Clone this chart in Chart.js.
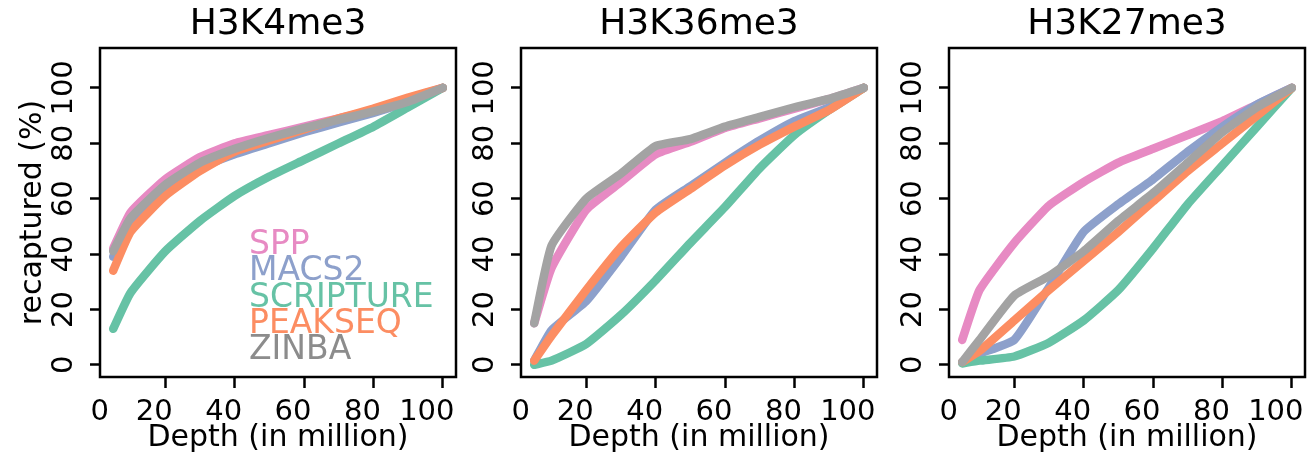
<!DOCTYPE html>
<html>
<head>
<meta charset="utf-8">
<title>Recaptured peaks vs sequencing depth</title>
<script src="https://cdn.jsdelivr.net/npm/chart.js@4.4.1/dist/chart.umd.min.js"></script>
<style>
  html, body { margin: 0; padding: 0; background: #fff; }
  body { width: 1311px; height: 459px; position: relative; overflow: hidden; }
  canvas { position: absolute; top: 0; }
</style>
</head>
<body>
<canvas id="k4" width="470" height="459" style="left:0px"></canvas>
<canvas id="k36" width="470" height="459" style="left:421px"></canvas>
<canvas id="k27" width="462" height="459" style="left:849px"></canvas>
<script>
// depth in million reads
const depth = [5, 10, 20, 30, 40, 50, 60, 70, 80, 90, 100];
const methods = ['SPP', 'MACS2', 'SCRIPTURE', 'PEAKSEQ', 'ZINBA'];
const colors = ['#e78ac3', '#8da0cb', '#66c2a5', '#fc8d62', '#a3a3a3'];
const xTicks = [0, 20, 40, 60, 80, 100];
const yTicks = [0, 20, 40, 60, 80, 100];

// H3K4me3
const k4Spp   = [42, 55, 67, 75, 80, 83, 86, 89, 92, 96, 100];
const k4Macs2 = [39, 51, 63, 71, 76, 80, 84, 87.5, 91, 95, 100];
const k4Scrip = [13, 26, 41, 52, 61, 68, 74, 80, 86, 93, 100];
const k4Peak  = [34, 48, 61, 70, 77, 81, 85, 89, 92.5, 96.5, 100];
const k4Zinba = [41, 53, 65, 73, 78, 82, 85.5, 88.5, 91.5, 95, 100];

// H3K36me3
const k36Spp   = [15, 35, 56, 66, 76, 80.5, 85.5, 89, 92.5, 96, 100];
const k36Macs2 = [1.5, 12.5, 23, 39, 56, 64.5, 73, 81, 88, 93, 100];
const k36Scrip = [0, 1.5, 7.5, 18, 30.5, 44, 57, 71, 83, 92, 100];
const k36Peak  = [1.5, 10.5, 27, 42.5, 55, 63.5, 72, 79.5, 86, 92, 100];
const k36Zinba = [15, 43, 60, 69, 79, 81.5, 86, 89.5, 93, 96, 100];

// H3K27me3
const k27Spp   = [9, 27, 44, 57.5, 66, 73, 78, 83, 88, 94, 100];
const k27Macs2 = [1, 4, 9, 28, 48, 58, 67, 77, 86, 94, 100];
const k27Scrip = [0.5, 1.5, 3, 8, 16, 27, 42, 58, 72, 86, 100];
const k27Peak  = [1, 5, 16, 27, 37.5, 48, 59, 70, 80, 90, 100];
const k27Zinba = [1, 9, 25, 32, 41, 52, 62, 73, 84, 93, 100];

const FONT = 'DejaVu Sans';

// box round the plot, rotated y labels, shifted x labels, text legend
const axisDecor = {
    id: 'axisDecor',
    afterDatasetsDraw(chart, args, opts) {
        const { ctx, chartArea: a, scales: { x, y } } = chart;
        ctx.save();
        ctx.strokeStyle = '#000';
        ctx.lineWidth = 2.5;
        ctx.strokeRect(a.left, a.top, a.right - a.left, a.bottom - a.top);

        ctx.fillStyle = '#000';
        ctx.font = '29px "' + FONT + '"';
        ctx.textAlign = 'center';
        ctx.textBaseline = 'alphabetic';
        xTicks.forEach(v => {
            const shift = v === 0 ? 4 : (v === 100 ? -16 : -11);
            ctx.fillText(String(v), x.getPixelForValue(v) + shift, a.bottom + 43);
        });
        yTicks.forEach(v => {
            ctx.save();
            ctx.translate(a.left - 28, y.getPixelForValue(v));
            ctx.rotate(-Math.PI / 2);
            ctx.fillText(String(v), 0, 0);
            ctx.restore();
        });

        if (opts.legend) {
            ctx.font = '33px "' + FONT + '"';
            ctx.textAlign = 'left';
            chart.data.datasets.forEach((ds, i) => {
                ctx.fillStyle = i === 4 ? '#8c8c8c' : ds.borderColor;
                ctx.fillText(ds.label, a.left + 149, a.top + 206 + i * 26.3);
            });
        }
        ctx.restore();
    }
};

function makePanel(id, title, series, withYTitle, withLegend, width) {
    const ctx = document.getElementById(id).getContext('2d');
    return new Chart(ctx, {
        type: 'line',
        data: {
            datasets: series.map((vals, i) => ({
                label: methods[i],
                data: depth.map((d, j) => ({ x: d, y: vals[j] })),
                borderColor: colors[i],
                borderWidth: 8.5,
                borderCapStyle: 'round',
                borderJoinStyle: 'round',
                pointRadius: 0,
                tension: 0.15,
                fill: false,
                order: methods.length - i
            }))
        },
        options: {
            responsive: false,
            animation: false,
            events: [],
            layout: { padding: { left: 0, right: width - 456, top: 0, bottom: 0 } },
            scales: {
                x: {
                    type: 'linear',
                    min: 1.2,
                    max: 103.8,
                    afterBuildTicks: s => {
                        s.ticks = xTicks.filter(v => v >= s.min && v <= s.max).map(v => ({ value: v }));
                    },
                    afterFit: s => { s.height = 82; },
                    grid: { drawOnChartArea: false, drawTicks: true, tickLength: 11, tickWidth: 2.5, tickColor: '#000' },
                    border: { display: false },
                    ticks: { display: false },
                    title: {
                        display: true,
                        text: 'Depth (in million)',
                        color: '#000',
                        font: { family: FONT, size: 30, lineHeight: 1 },
                        padding: { top: 0, bottom: 6 }
                    }
                },
                y: {
                    type: 'linear',
                    min: -4.4,
                    max: 114.4,
                    afterBuildTicks: s => {
                        s.ticks = yTicks.map(v => ({ value: v }));
                    },
                    afterFit: s => { s.width = 100; },
                    grid: { drawOnChartArea: false, drawTicks: true, tickLength: 10, tickWidth: 2.5, tickColor: '#000' },
                    border: { display: false },
                    ticks: { display: false },
                    title: {
                        display: withYTitle,
                        text: 'recaptured (%)',
                        color: '#000',
                        font: { family: FONT, size: 30, lineHeight: 1 },
                        padding: { top: 18, bottom: 0 }
                    }
                }
            },
            plugins: {
                legend: { display: false },
                tooltip: { enabled: false },
                title: {
                    display: true,
                    text: title,
                    color: '#000',
                    fullSize: false,
                    font: { family: FONT, size: 36, weight: 'normal', lineHeight: 1 },
                    padding: { top: 7, bottom: 5 }
                },
                axisDecor: { legend: withLegend }
            }
        },
        plugins: [axisDecor]
    });
}

makePanel('k4', 'H3K4me3', [k4Spp, k4Macs2, k4Scrip, k4Peak, k4Zinba], true, true, 470);
makePanel('k36', 'H3K36me3', [k36Spp, k36Macs2, k36Scrip, k36Peak, k36Zinba], false, false, 470);
makePanel('k27', 'H3K27me3', [k27Spp, k27Macs2, k27Scrip, k27Peak, k27Zinba], false, false, 462);
</script>
</body>
</html>
